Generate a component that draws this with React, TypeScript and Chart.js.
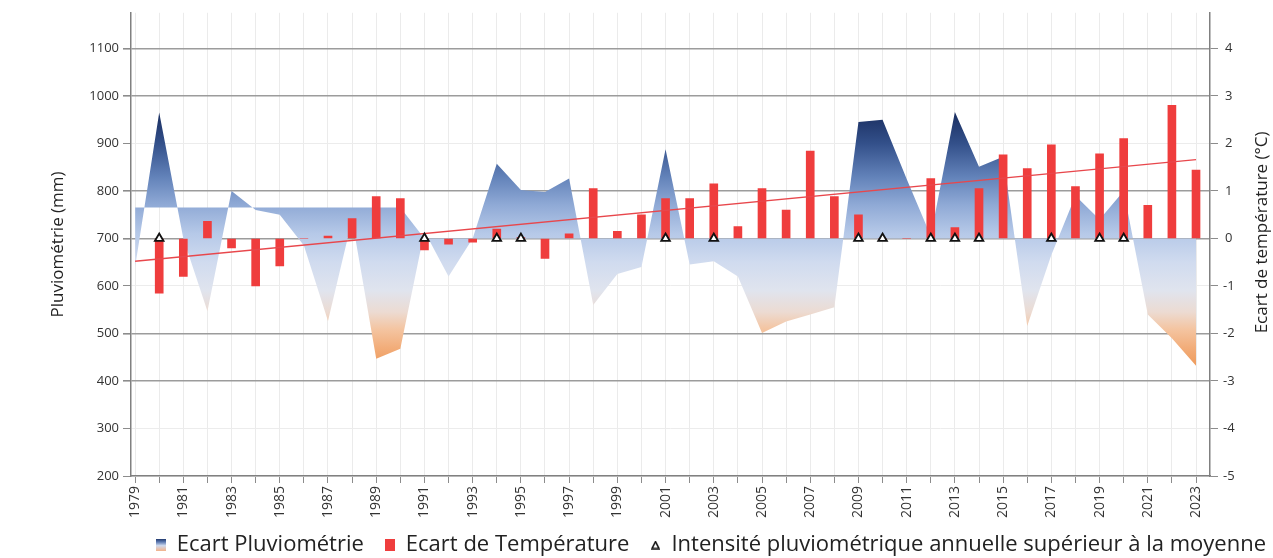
import React, { useEffect, useRef } from 'react';
import { Chart, registerables } from 'chart.js';

Chart.register(...registerables);

const FONT = "'Open Sans', sans-serif";

const years = [
  1979, 1980, 1981, 1982, 1983, 1984, 1985, 1986, 1987, 1988, 1989, 1990,
  1991, 1992, 1993, 1994, 1995, 1996, 1997, 1998, 1999, 2000, 2001, 2002,
  2003, 2004, 2005, 2006, 2007, 2008, 2009, 2010, 2011, 2012, 2013, 2014,
  2015, 2016, 2017, 2018, 2019, 2020, 2021, 2022, 2023,
];

// Pluviométrie annuelle (mm)
const rainfall = [
  640, 965, 700, 547, 800, 760, 750, 685, 526, 740, 447, 468,
  715, 620, 700, 857, 802, 798, 826, 560, 625, 640, 888, 645,
  652, 620, 501, 525, 540, 555, 945, 950, 825, 705, 966, 851,
  872, 516, 665, 790, 740, 800, 540, 490, 432,
];

// Niveau de référence de remplissage de l'aire (mm)
const fillBaseline = [
  765, 765, 765, 765, 765, 765, 765, 765, 765, 765, 765, 765,
  700, 700, 700, 700, 700, 700, 700, 700, 700, 700, 700, 700,
  700, 700, 700, 700, 700, 700, 700, 700, 700, 700, 700, 700,
  700, 700, 700, 700, 700, 700, 700, 700, 700,
];

// Ecart de température (°C)
const temperature = [
  null, -1.15, -0.8, 0.36, -0.2, -1.0, -0.58, 0, 0.05, 0.42, 0.88, 0.84,
  -0.24, -0.12, -0.08, 0.2, 0.02, -0.42, 0.1, 1.05, 0.15, 0.5, 0.84, 0.84,
  1.15, 0.25, 1.05, 0.6, 1.84, 0.88, 0.5, 0, 0, 1.26, 0.23, 1.05,
  1.76, 1.47, 1.97, 1.09, 1.78, 2.1, 0.7, 2.8, 1.44,
];

// Années d'intensité pluviométrique supérieure à la moyenne
const intensityYears = [1980, 1991, 1994, 1995, 2001, 2003, 2009, 2010, 2012, 2013, 2014, 2017, 2019, 2020];
const intensityValues = [0, 0, 0, 0, 0, 0, 0, 0, 0, 0, 0, 0, 0, 0];

// Tendance de température
const trendYears = [1979, 2023];
const trendValues = [-0.48, 1.66];

const leftTicks = [200, 300, 400, 500, 600, 700, 800, 900, 1000, 1100];
const rightTicks = [-5, -4, -3, -2, -1, 0, 1, 2, 3, 4];
const xTickLabels = [
  1979, 1981, 1983, 1985, 1987, 1989, 1991, 1993, 1995, 1997, 1999, 2001,
  2003, 2005, 2007, 2009, 2011, 2013, 2015, 2017, 2019, 2021, 2023,
];
const strongGrid = [1100, 1000, 800, 700, 500, 400];

const leftTitle = 'Pluviométrie (mm)';
const rightTitle = 'Ecart de température (°C)';
const legendRain = 'Ecart Pluviométrie';
const legendTemp = 'Ecart de Température';
const legendIntensity = 'Intensité pluviométrique annuelle supérieur à la moyenne';

const gradientStops: [number, string][] = [
  [975, '#16295a'],
  [900, '#33508a'],
  [830, '#6282b9'],
  [770, '#90aad6'],
  [710, '#b6c9e8'],
  [650, '#d0dbef'],
  [590, '#e0e4ee'],
  [545, '#ecdbd2'],
  [510, '#f4c5a2'],
  [470, '#f2ad7a'],
  [430, '#ee9a5a'],
];

function makeIcon(w: number, h: number, draw: (ctx: CanvasRenderingContext2D) => void) {
  const c = document.createElement('canvas');
  c.width = w;
  c.height = h;
  const ctx = c.getContext('2d');
  if (ctx) draw(ctx);
  return c;
}

const LEGEND_TEXT_Y = 545;
const LEGEND_RIGHT = 1287;

const layoutPlugin = {
  id: 'layoutPlugin',
  beforeInit(chart: any) {
    const legend = chart.legend;
    if (legend) {
      const origFit = legend.fit.bind(legend);
      legend.fit = function () {
        origFit();
        this.height = 39;
      };
    }
  },
  afterLayout(chart: any) {
    const legend = chart.legend;
    if (legend) {
      const pad = legend.options.labels.padding;
      const fs = legend.options.labels.font.size;
      legend.top = LEGEND_TEXT_Y - pad - fs / 2;
      legend.right = LEGEND_RIGHT;
    }
  },
  afterDraw(chart: any) {
    const { ctx, chartArea } = chart;
    const s = chart.scales.y1;
    ctx.save();
    ctx.font = `17px ${FONT}`;
    ctx.fillStyle = '#222';
    ctx.textAlign = 'center';
    ctx.textBaseline = 'middle';
    ctx.translate(s.right - 11, (chartArea.top + chartArea.bottom) / 2 - 12);
    ctx.rotate(-Math.PI / 2);
    ctx.fillText(rightTitle, 0, 0);
    ctx.restore();
  },
};

export default function App() {
  const ref = useRef<HTMLCanvasElement | null>(null);

  useEffect(() => {
    document.body.style.margin = '0';
    if (!ref.current) return;

    const iconRain = makeIcon(10, 12, (ctx) => {
      const g = ctx.createLinearGradient(0, 0, 0, 12);
      g.addColorStop(0, '#223a6e');
      g.addColorStop(0.25, '#5d7bb3');
      g.addColorStop(0.55, '#cfdaee');
      g.addColorStop(1, '#f2b28a');
      ctx.fillStyle = g;
      ctx.fillRect(0, 0, 10, 12);
    });
    const iconTemp = makeIcon(10, 12, (ctx) => {
      ctx.fillStyle = '#ef3d3d';
      ctx.fillRect(0, 0, 10, 12);
    });
    const iconTri = makeIcon(9, 9, (ctx) => {
      ctx.beginPath();
      ctx.moveTo(4.5, 1.2);
      ctx.lineTo(8, 8);
      ctx.lineTo(1, 8);
      ctx.closePath();
      ctx.fillStyle = '#fff';
      ctx.fill();
      ctx.lineWidth = 1.6;
      ctx.strokeStyle = '#111';
      ctx.stroke();
    });

    const rainGradient = (c: any) => {
      const chart = c.chart;
      const { chartArea, scales } = chart;
      if (!chartArea || !scales.y) return '#a9bde0';
      const y = scales.y;
      const top = y.getPixelForValue(gradientStops[0][0]);
      const bottom = y.getPixelForValue(gradientStops[gradientStops.length - 1][0]);
      const g = chart.ctx.createLinearGradient(0, top, 0, bottom);
      const span = gradientStops[0][0] - gradientStops[gradientStops.length - 1][0];
      gradientStops.forEach(([v, col]) => {
        g.addColorStop((gradientStops[0][0] - v) / span, col);
      });
      return g;
    };

    const tickFont = { family: FONT, size: 13 };

    const chart = new Chart(ref.current, {
      type: 'bar',
      data: {
        datasets: [
          {
            type: 'line',
            label: legendIntensity,
            data: intensityYears.map((x, i) => ({ x, y: intensityValues[i] })),
            yAxisID: 'y1',
            showLine: false,
            pointStyle: 'triangle',
            pointRadius: 5,
            pointBackgroundColor: '#ffffff',
            pointBorderColor: '#111111',
            pointBorderWidth: 1.8,
            order: 0,
          } as any,
          {
            type: 'line',
            label: 'Tendance',
            data: trendYears.map((x, i) => ({ x, y: trendValues[i] })),
            yAxisID: 'y1',
            borderColor: '#e8474c',
            borderWidth: 1.3,
            pointRadius: 0,
            fill: false,
            order: 1,
          } as any,
          {
            type: 'bar',
            label: legendTemp,
            data: years.map((x, i) => ({ x, y: temperature[i] })),
            yAxisID: 'y1',
            backgroundColor: '#ef3d3d',
            barThickness: 8,
            order: 2,
          } as any,
          {
            type: 'line',
            label: legendRain,
            data: years.map((x, i) => ({ x, y: rainfall[i] })),
            yAxisID: 'y',
            fill: 4,
            backgroundColor: rainGradient,
            borderColor: 'transparent',
            borderWidth: 0,
            pointRadius: 0,
            tension: 0,
            order: 3,
          } as any,
          {
            type: 'line',
            label: 'base',
            data: years.map((x, i) => ({ x, y: fillBaseline[i] })),
            yAxisID: 'y',
            fill: false,
            borderColor: 'transparent',
            borderWidth: 0,
            pointRadius: 0,
            tension: 0,
            order: 4,
          } as any,
        ],
      },
      options: {
        responsive: false,
        animation: false,
        layout: { padding: { top: 10, left: 0, right: 0, bottom: 0 } },
        scales: {
          x: {
            type: 'linear',
            offset: false,
            min: 1978.83,
            max: 2023.58,
            afterBuildTicks: (s: any) => {
              s.ticks = years.map((v) => ({ value: v }));
            },
            afterFit: (s: any) => {
              s.height = 43;
            },
            grid: { color: '#ebebeb', lineWidth: 1, tickColor: '#8c8c8c', tickLength: 7, offset: false },
            border: { color: '#808080', width: 1.5 },
            ticks: {
              autoSkip: false,
              maxRotation: 90,
              minRotation: 90,
              padding: 3,
              font: { family: FONT, size: 14 },
              color: '#333',
              callback: (v: any) => (xTickLabels.includes(Number(v)) ? String(v) : ''),
            },
          } as any,
          y: {
            type: 'linear',
            position: 'left',
            min: 200,
            max: 1175,
            afterBuildTicks: (s: any) => {
              s.ticks = leftTicks.map((v) => ({ value: v }));
            },
            afterFit: (s: any) => {
              s.width = 131;
            },
            grid: {
              color: (c: any) => (strongGrid.includes(c.tick?.value) ? '#9c9c9c' : '#ececec'),
              lineWidth: (c: any) => (strongGrid.includes(c.tick?.value) ? 1.6 : 1),
              tickColor: '#8c8c8c',
              tickLength: 8,
            },
            border: { color: '#808080', width: 1.5 },
            ticks: { font: tickFont, color: '#333', padding: 4, callback: (v: any) => String(v) },
            title: {
              display: true,
              text: leftTitle,
              font: { family: FONT, size: 17 },
              color: '#222',
              padding: { top: 48, bottom: 0 },
            },
          } as any,
          y1: {
            type: 'linear',
            position: 'right',
            min: -5,
            max: 4.75,
            afterBuildTicks: (s: any) => {
              s.ticks = rightTicks.map((v) => ({ value: v }));
            },
            afterFit: (s: any) => {
              s.width = 63;
            },
            grid: { drawOnChartArea: false, tickColor: '#8c8c8c', tickLength: 8 },
            border: { color: '#808080', width: 1.5 },
            ticks: { font: tickFont, color: '#333', padding: 5, crossAlign: 'center', callback: (v: any) => String(v) },
          } as any,
        },
        plugins: {
          tooltip: { enabled: false },
          legend: {
            position: 'bottom',
            align: 'end',
            labels: {
              usePointStyle: true,
              pointStyleWidth: 10,
              padding: 21,
              color: '#222',
              font: { family: FONT, size: 22 },
              generateLabels: () => [
                { text: legendRain, pointStyle: iconRain, fillStyle: '#fff', strokeStyle: '#fff', lineWidth: 0, hidden: false, datasetIndex: 3, fontColor: '#222' },
                { text: legendTemp, pointStyle: iconTemp, fillStyle: '#fff', strokeStyle: '#fff', lineWidth: 0, hidden: false, datasetIndex: 2, fontColor: '#222' },
                { text: legendIntensity, pointStyle: iconTri, fillStyle: '#fff', strokeStyle: '#fff', lineWidth: 0, hidden: false, datasetIndex: 0, fontColor: '#222' },
              ] as any,
            },
          } as any,
        },
      } as any,
      plugins: [layoutPlugin],
    });

    return () => chart.destroy();
  }, []);

  return (
    <div style={{ width: 1273, height: 558 }}>
      <canvas ref={ref} width={1273} height={558} />
    </div>
  );
}
